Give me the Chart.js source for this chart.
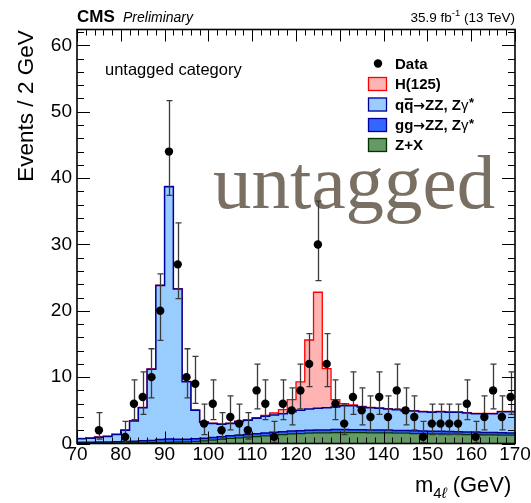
<!DOCTYPE html>
<html><head><meta charset="utf-8">
<script src="https://cdn.jsdelivr.net/npm/chart.js@4/dist/chart.umd.min.js"></script>
<style>html,body{margin:0;padding:0;background:#fff;}#wrap{width:531px;height:503px;position:relative;}</style>
</head><body><div id="wrap"><canvas id="c" width="531" height="503"></canvas></div>
<script>
// ---- data (bin centres in GeV, 2 GeV bins) ----
const binCenters = [71,73,75,77,79,81,83,85,87,89,91,93,95,97,99,101,103,105,107,109,
  111,113,115,117,119,121,123,125,127,129,131,133,135,137,139,141,143,145,147,149,
  151,153,155,157,159,161,163,165,167,169];
const dataCounts = [0,0,2,0,0,1,6,7,10,20,44,27,10,9,3,6,2,4,3,2,
  8,6,1,6,5,8,12,30,12,6,3,7,5,4,7,4,8,5,4,1,
  3,3,3,3,6,1,4,8,4,7];
const zxYield = [0.05,0.05,0.05,0.06,0.07,0.08,0.09,0.10,0.12,0.14,0.16,0.20,0.25,0.30,0.40,0.50,0.60,0.75,0.85,0.95,
  1.05,1.15,1.25,1.35,1.45,1.50,1.55,1.60,1.60,1.65,1.65,1.65,1.65,1.60,1.60,1.60,1.55,1.55,1.50,1.50,
  1.45,1.45,1.40,1.40,1.35,1.35,1.30,1.30,1.25,1.25];
const ggzzYield = [0.15,0.15,0.17,0.18,0.20,0.22,0.25,0.30,0.35,0.45,0.50,0.45,0.40,0.40,0.40,0.40,0.40,0.40,0.40,0.42,
  0.42,0.42,0.43,0.43,0.44,0.44,0.45,0.45,0.45,0.45,0.45,0.44,0.44,0.43,0.43,0.42,0.42,0.41,0.41,0.40,
  0.40,0.39,0.39,0.38,0.38,0.37,0.37,0.36,0.36,0.35];
const qqzzYield = [0.50,0.60,0.73,0.81,1.08,1.70,3.06,5.00,10.73,23.21,38.04,22.65,8.65,4.30,2.40,2.10,1.90,1.85,2.05,2.13,
  2.33,2.53,2.62,2.72,2.91,3.06,3.20,3.25,3.35,3.40,3.60,3.61,3.41,3.37,3.27,3.18,3.13,2.94,2.99,2.90,
  2.85,2.96,2.91,2.92,2.87,2.78,2.83,2.84,3.19,3.20];
const higgsYield = [0.05,0.05,0.05,0.05,0.05,0.05,0.05,0.05,0.05,0.05,0.05,0.05,0.05,0.05,0.05,0.05,0.05,0.05,0.05,0.06,
  0.08,0.12,0.30,0.60,1.80,4.30,10.4,17.5,5.90,1.10,0.30,0.12,0.08,0.05,0.05,0.05,0.05,0.05,0.05,0.05,
  0.05,0.05,0.05,0.05,0.05,0.05,0.05,0.05,0.05,0.05];
const xTickLabels = [70,80,90,100,110,120,130,140,150,160,170];
const yTickLabels = [0,10,20,30,40,50,60];

const X_MIN = 70, X_MAX = 170, Y_MAX = 62.4;
const SANS = '"Liberation Sans", Arial, Helvetica, sans-serif';

// histogram outline: one point at every bin edge, stepped
const binEdges = binCenters.map(c => c - 1).concat([binCenters[binCenters.length - 1] + 1]);
function stepSeries(vals) {
  return binEdges.map((e, i) => ({x: e, y: vals[Math.min(i, vals.length - 1)]}));
}
// Garwood-like 68% Poisson interval
function poissonLo(n) { return n <= 0 ? 0 : n - Math.sqrt(n - 0.25); }
function poissonHi(n) { return n + Math.sqrt(n + 0.75) + 1; }

const COL = {
  zx: {fill: '#669966', line: '#003300'},
  gg: {fill: '#3366ff', line: '#000099'},
  qq: {fill: '#99ccff', line: '#000099'},
  h:  {fill: '#ffb3b3', line: '#ff0000'}
};

const decor = {
  id: 'decor',
  beforeDatasetsDraw(chart) {
    const ctx = chart.ctx;
    ctx.save();
    ctx.fillStyle = 'rgb(122,111,99)';
    ctx.font = '77px "Liberation Serif", "Times New Roman", serif';
    ctx.textBaseline = 'alphabetic';
    ctx.textAlign = 'left';
    ctx.fillText('untagged', 213, 208);
    ctx.restore();
  },
  beforeDatasetDraw(chart, args) {
    if (args.index !== 4) return;
    const {ctx, scales: {x, y}} = chart;
    ctx.save();
    ctx.strokeStyle = '#3a3a3a';
    ctx.lineWidth = 1.3;
    binCenters.forEach((c, i) => {
      const n = dataCounts[i];
      if (!n) return;
      const px = Math.round(x.getPixelForValue(c)) + 0.5;
      const y1 = y.getPixelForValue(poissonLo(n));
      const y2 = y.getPixelForValue(poissonHi(n));
      ctx.beginPath();
      ctx.moveTo(px, y1); ctx.lineTo(px, y2);
      ctx.moveTo(px - 3, y1); ctx.lineTo(px + 3, y1);
      ctx.moveTo(px - 3, y2); ctx.lineTo(px + 3, y2);
      ctx.stroke();
    });
    ctx.restore();
  },
  afterDatasetsDraw(chart) {
    const {ctx, chartArea: a, scales: {x, y}} = chart;
    ctx.save();
    ctx.strokeStyle = '#000';
    ctx.lineWidth = 1;
    ctx.beginPath();
    for (let v = X_MIN; v <= X_MAX; v += 2) {
      const px = Math.round(x.getPixelForValue(v)) + 0.5;
      const len = (v % 10 === 0) ? 12 : 6;
      ctx.moveTo(px, a.bottom); ctx.lineTo(px, a.bottom - len);
      ctx.moveTo(px, a.top); ctx.lineTo(px, a.top + len);
    }
    for (let v = 0; v <= Y_MAX; v += 2) {
      const py = Math.round(y.getPixelForValue(v)) + 0.5;
      const len = (v % 10 === 0) ? 13 : 7;
      ctx.moveTo(a.left, py); ctx.lineTo(a.left + len, py);
      ctx.moveTo(a.right, py); ctx.lineTo(a.right - len, py);
    }
    ctx.stroke();
    ctx.lineWidth = 1.6;
    ctx.strokeRect(a.left, a.top, a.right - a.left, a.bottom - a.top);
    ctx.restore();
  },
  afterDraw(chart) {
    const ctx = chart.ctx;
    ctx.save();
    ctx.fillStyle = '#000';
    ctx.textBaseline = 'alphabetic';
    // header
    ctx.textAlign = 'left';
    ctx.font = 'bold 17px ' + SANS;
    ctx.fillText('CMS', 77, 22);
    ctx.font = 'italic 14px ' + SANS;
    ctx.fillText('Preliminary', 123, 22);
    // lumi, right aligned at 515
    const p1 = '35.9 fb', p3 = ' (13 TeV)';
    ctx.font = '9.5px ' + SANS;
    const wSup = ctx.measureText('-1').width;
    ctx.font = '13.5px ' + SANS;
    const w1 = ctx.measureText(p1).width, w3 = ctx.measureText(p3).width;
    let xs = 515 - (w1 + wSup + w3);
    ctx.fillText(p1, xs, 22);
    ctx.font = '9.5px ' + SANS;
    ctx.fillText('-1', xs + w1, 16);
    ctx.font = '13.5px ' + SANS;
    ctx.fillText(p3, xs + w1 + wSup, 22);
    // category label
    ctx.font = '16.5px ' + SANS;
    ctx.fillText('untagged category', 105, 75);
    // y title
    ctx.save();
    ctx.translate(33, 106);
    ctx.rotate(-Math.PI / 2);
    ctx.textAlign = 'center';
    ctx.font = '22.5px ' + SANS;
    ctx.fillText('Events / 2 GeV', 0, 0);
    ctx.restore();
    // x title
    ctx.textAlign = 'left';
    ctx.font = '22px ' + SANS;
    let xx = 415;
    ctx.fillText('m', xx, 492); xx += ctx.measureText('m').width;
    ctx.font = '15px ' + SANS;
    ctx.fillText('4', xx, 498); xx += ctx.measureText('4').width;
    ctx.font = 'italic 15px ' + SANS;
    ctx.fillText('\u2113', xx, 498); xx += ctx.measureText('\u2113').width;
    ctx.font = '22px ' + SANS;
    ctx.fillText(' (GeV)', xx, 492);
    // legend
    const lx = 395, bx = 368, bw = 19, bh = 14;
    const rows = [63.5, 84, 104.5, 125, 145];
    ctx.beginPath(); ctx.arc(378, rows[0], 4.2, 0, Math.PI * 2); ctx.fill();
    const boxes = [COL.h, COL.qq, COL.gg, COL.zx];
    boxes.forEach((c, i) => {
      const cy = rows[i + 1];
      ctx.fillStyle = c.fill;
      ctx.fillRect(bx, cy - bh / 2, bw, bh);
      ctx.strokeStyle = c.line; ctx.lineWidth = 1.3;
      ctx.strokeRect(bx + 0.5, cy - bh / 2 + 0.5, bw - 1, bh - 1);
    });
    ctx.fillStyle = '#000';
    ctx.font = 'bold 15px ' + SANS;
    ctx.fillText('Data', lx, rows[0] + 5.3);
    ctx.fillText('H(125)', lx, rows[1] + 5.3);
    // q qbar -> ZZ, Z gamma*
    function zzLabel(first, second, bar, cy) {
      let x0 = lx;
      ctx.font = 'bold 15px ' + SANS;
      ctx.fillText(first, x0, cy + 5.3); x0 += ctx.measureText(first).width;
      const w2 = ctx.measureText(second).width;
      ctx.fillText(second, x0, cy + 5.3);
      if (bar) ctx.fillRect(x0 + 0.5, cy - 6.2, w2 - 1, 1.6);
      x0 += w2;
      ctx.font = 'bold 14px "DejaVu Sans", ' + SANS;
      ctx.fillText('\u2192', x0, cy + 5.3); x0 += ctx.measureText('\u2192').width;
      ctx.font = 'bold 15px ' + SANS;
      const rest = 'ZZ, Z';
      ctx.fillText(rest, x0, cy + 5.3); x0 += ctx.measureText(rest).width;
      ctx.font = '15px ' + SANS;
      ctx.fillText('\u03b3', x0, cy + 5.3); x0 += ctx.measureText('\u03b3').width + 0.5;
      ctx.font = 'bold 13px ' + SANS;
      ctx.fillText('*', x0, cy + 2.5);
    }
    zzLabel('q', 'q', true, rows[2]);
    zzLabel('g', 'g', false, rows[3]);
    ctx.font = 'bold 15px ' + SANS;
    ctx.fillText('Z+X', lx, rows[4] + 5.3);
    ctx.restore();
  }
};

const histBase = {stack: 'mc', stepped: 'before', pointRadius: 0, pointHoverRadius: 0, order: 1, tension: 0};
new Chart(document.getElementById('c'), {
  type: 'line',
  data: {
    datasets: [
      Object.assign({label: 'Z+X', data: stepSeries(zxYield), fill: 'origin',
        backgroundColor: COL.zx.fill, borderColor: COL.zx.line, borderWidth: 1.2}, histBase),
      Object.assign({label: 'gg\u2192ZZ, Z\u03b3*', data: stepSeries(ggzzYield), fill: '-1',
        backgroundColor: COL.gg.fill, borderColor: COL.gg.line, borderWidth: 1.5}, histBase),
      Object.assign({label: 'qq\u0304\u2192ZZ, Z\u03b3*', data: stepSeries(qqzzYield), fill: '-1',
        backgroundColor: COL.qq.fill, borderColor: COL.qq.line, borderWidth: 1.5}, histBase),
      Object.assign({label: 'H(125)', data: stepSeries(higgsYield), fill: '-1',
        backgroundColor: COL.h.fill, borderColor: COL.h.line, borderWidth: 1.3}, histBase),
      {label: 'Data', stack: 'data', order: 0, showLine: false,
        data: binCenters.map((c, i) => ({x: c, y: dataCounts[i] > 0 ? dataCounts[i] : null})),
        pointRadius: 4.2, pointBackgroundColor: '#000', pointBorderColor: '#000', pointBorderWidth: 0,
        borderColor: '#000', backgroundColor: '#000'}
    ]
  },
  options: {
    responsive: false, animation: false, devicePixelRatio: 1,
    layout: {padding: {top: 29.5, right: 16, left: 0, bottom: 0}},
    plugins: {legend: {display: false}, tooltip: {enabled: false}},
    scales: {
      x: {
        type: 'linear', min: X_MIN, max: X_MAX,
        grid: {display: false, drawTicks: false}, border: {display: false},
        ticks: {stepSize: 10, padding: 0, color: '#000', font: {family: SANS, size: 19},
          maxRotation: 0, autoSkip: false},
        afterBuildTicks: s => { s.ticks = xTickLabels.map(v => ({value: v})); },
        afterFit: s => { s.height = 59.5; }
      },
      y: {
        type: 'linear', min: 0, max: Y_MAX, stacked: true,
        grid: {display: false, drawTicks: false}, border: {display: false},
        ticks: {stepSize: 10, padding: 5, color: '#000', font: {family: SANS, size: 19}},
        afterBuildTicks: s => { s.ticks = yTickLabels.map(v => ({value: v})); },
        afterFit: s => { s.width = 77; }
      }
    }
  },
  plugins: [decor]
});
</script>
</body></html>
